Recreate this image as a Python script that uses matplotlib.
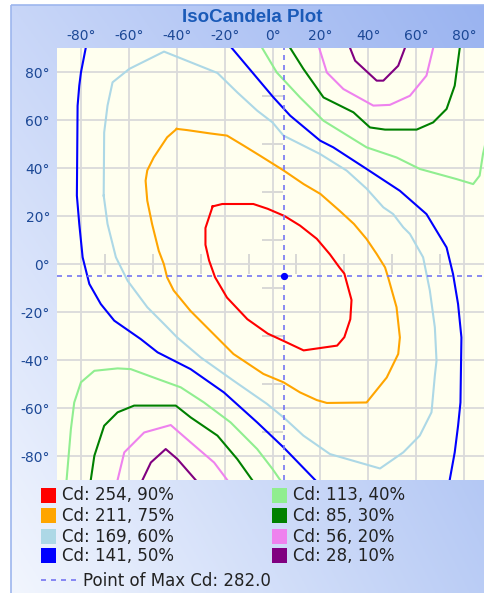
import numpy as np
import matplotlib.pyplot as plt
from matplotlib.patches import Rectangle
from matplotlib.lines import Line2D

# candela levels (value, percent of max) and their line colours
cd_values = [254, 211, 169, 141, 113, 85, 56, 28]
cd_percent = [90, 75, 60, 50, 40, 30, 20, 10]
cd_colors = ['#FF0000', '#FFA500', '#ADD8E6', '#0000FF',
             '#90EE90', '#008000', '#EE82EE', '#800080']

# point of max candela (horizontal angle, vertical angle, value)
max_h = 5
max_v = -5
max_cd = 282.0

# isocandela lines, (horizontal deg, vertical deg)
cd254 = [(-25, 24), (-21, 25), (-8, 25), (-2, 23), (5, 20), (11.5, 16), (18.5, 10.5),
         (24, 4), (28, -1.5), (30, -4), (33, -15), (32.5, -23), (30, -30.5), (27, -34),
         (20, -35), (13, -36), (4.5, -32), (-2, -29), (-10.5, -23), (-19, -14),
         (-24, -5.5), (-26.5, 1.5), (-28, 8), (-28, 15), (-25, 24)]

cd211 = [(-40, 56.3), (-35.7, 55.8), (-26, 54.4), (-19, 53.5), (-12, 49.3), (-5, 45),
         (4.6, 39), (13, 33.3), (20, 29.2), (28, 22.2), (34, 16.7), (39.3, 10.4),
         (43.5, 4.2), (47, -1.4), (48.3, -5.6), (51.8, -18), (53.2, -30.6), (52.5, -37.5),
         (47.7, -47.3), (39.3, -57.7), (22.7, -57.9), (18.5, -56.7), (11.5, -53.5),
         (4.6, -49.3), (-3.8, -45.8), (-16.3, -37.5), (-26, -27.8), (-34.3, -19.5),
         (-41.3, -11), (-44, -5.6), (-45.4, 0), (-47.5, 5.5), (-50.3, 16.7), (-52.3, 26.4),
         (-53, 34.7), (-52.3, 39), (-49.6, 44.4), (-44, 52.8), (-40, 56.3)]

cd169 = [(-70.5, 28.5), (-70.3, 54.8), (-68.9, 66), (-66.8, 75.7), (-59.8, 81.3),
         (-45.3, 88.5), (-23, 79.6), (-14.7, 71.5), (-6.4, 63.9), (0, 59), (4.6, 53.5),
         (19.9, 45.8), (31, 38.9), (39.3, 31.4), (46.3, 23.6), (50.4, 20.8), (54.6, 15.3),
         (57.4, 12.5), (62.9, 2.8), (65.7, -11), (67.8, -26.4), (68.5, -40.3),
         (67.8, -46.5), (66.4, -61.8), (61.5, -71.5), (54.6, -78.5), (44.9, -85.2),
         (24, -79.2), (12.9, -71.5), (4.6, -63.9), (-2.3, -58.3), (-16.3, -48.6),
         (-30, -38.9), (-39.8, -30.6), (-45.3, -25), (-52.3, -18), (-60.5, -7),
         (-65.4, 2.8), (-68.9, 16.7), (-70.5, 28.5)]

cd141_a = [(-17, 90), (0.4, 69.4), (7.4, 61.8), (19.9, 51.4), (25.4, 48.6), (39.3, 39.6),
           (53.2, 30.5), (64.3, 20.8), (72.7, 6.9), (75.4, -4.2), (77.5, -16.7),
           (78.9, -30.6), (78.5, -57.7), (77.5, -67.4), (76.1, -78.5), (74, -90)]
cd141_b = [(-78, 90), (-80, 79.8), (-80.7, 74.3), (-81.4, 65.9), (-81.7, 28.5),
           (-80.7, 16.7), (-79.3, 2.8), (-76.5, -8.3), (-71.7, -16.7), (-66.1, -23.6),
           (-55, -31.3), (-48, -36.8), (-34.2, -43.8), (-20.3, -53.5), (-6.4, -66),
           (4.6, -76.4), (17.8, -90)]

cd113_a = [(-4.3, 90), (1.8, 79.8), (11.5, 69.4), (21.3, 59.7), (39.3, 48.6), (51.8, 44.4),
           (61.5, 39.6), (76.8, 35.4), (83.8, 33.3), (86.5, 36.8), (87.9, 45.8), (90, 55)]
cd113_b = [(-86, -90), (-84.2, -68.8), (-82.8, -57.7), (-80, -49.3), (-74.4, -44.5),
           (-64.7, -43.5), (-59.2, -43.8), (-48, -47.9), (-38.3, -51.4), (-28.6, -57.7),
           (-17.5, -66), (-6.4, -77.1), (0, -85.4), (3.2, -90)]

cd85_a = [(7.4, 90), (12.9, 81.3), (21.3, 69.4), (33.8, 63.2), (40.7, 56.9), (47, 56),
          (60.2, 56), (67.1, 59), (72.7, 64.6), (76.1, 74.3), (78.2, 90)]
cd85_b = [(-75.9, -90), (-74.4, -79.9), (-70.3, -67.4), (-64.7, -61.8), (-57.8, -59),
          (-40.4, -59), (-34.2, -63.9), (-23, -71.5), (-14.7, -81.3), (-8.5, -90)]

cd56_a = [(19.5, 90), (22.7, 79.8), (29.6, 72.9), (42.1, 66), (49, 66.3), (57.4, 70.1),
          (64.3, 78.5), (67.1, 90)]
cd56_b = [(-64.7, -90), (-61.9, -78.5), (-53.6, -70.2), (-42.5, -67.1), (-34.2, -74.3),
          (-24.4, -82.7), (-18.9, -90)]

cd28_a = [(32.4, 90), (34.5, 84.7), (43.5, 76.4), (46.3, 76.4), (52.5, 82.6), (55.3, 90)]
cd28_b = [(-54.3, -90), (-50.8, -82.7), (-44.6, -77.1), (-39.7, -81.3), (-32.1, -90)]

cd_lines = [[cd254], [cd211], [cd169], [cd141_a, cd141_b],
            [cd113_a, cd113_b], [cd85_a, cd85_b], [cd56_a, cd56_b], [cd28_a, cd28_b]]

W, H = 484, 593
fig = plt.figure(figsize=(W / 100, H / 100), dpi=100)
fig.patch.set_facecolor('white')

# panel background: blue gradient, lighter toward the bottom left
bg = fig.add_axes([0, 0, 1, 1], zorder=-10)
tl = np.array([200, 214, 248]) / 255
tr = np.array([152, 178, 240]) / 255
bl = np.array([242, 246, 254]) / 255
br = np.array([184, 203, 245]) / 255
u = np.linspace(0, 1, 200)[None, :, None]
v = np.linspace(0, 1, 200)[:, None, None]
grad = (1 - v) * ((1 - u) * tl + u * tr) + v * ((1 - u) * bl + u * br)
px0, py0 = 11, 5
bg.imshow(grad, extent=[px0, W + 20, H, py0], aspect='auto')
bg.add_patch(Rectangle((px0, py0), W + 20, H, fill=False, ec='#9DB6EE', lw=1.2))
bg.set_xlim(0, W)
bg.set_ylim(H, 0)
bg.axis('off')

ax = fig.add_axes([57 / W, (H - 480) / H, 431 / W, 432 / H])
ax.set_facecolor('#FFFFEF')
ax.set_xlim(-90, 90)
ax.set_ylim(-90, 90)
for s in ax.spines.values():
    s.set_visible(False)

ticks = np.arange(-80, 81, 20)
ax.set_xticks(ticks)
ax.set_yticks(ticks)
ax.set_xticklabels([f'{t}°' for t in ticks])
ax.set_yticklabels([f'{t}°' for t in ticks])
ax.xaxis.tick_top()
ax.tick_params(axis='x', length=0, pad=3.5, labelsize=10, labelcolor='#1C4896')
ax.tick_params(axis='y', length=0, pad=5, labelsize=10, labelcolor='#1C4896')
ax.grid(True, color='#DADADA', lw=1.3, zorder=0)

# small cross ticks along the zero lines
minor = np.arange(-70, 71, 20)
ax.hlines(minor, -4.4, 4.4, color='#D2D2D2', lw=1.2, zorder=1)
ax.vlines(minor, -4.2, 4.2, color='#D2D2D2', lw=1.2, zorder=1)

for segs, c in zip(cd_lines, cd_colors):
    for seg in segs:
        xy = np.array(seg)
        ax.plot(xy[:, 0], xy[:, 1], color=c, lw=1.5, zorder=3, clip_on=True)

ax.axvline(max_h, color='#7575F2', lw=1.2, dashes=(3, 3), zorder=4)
ax.axhline(max_v, color='#7575F2', lw=1.2, dashes=(3, 3), zorder=4)
ax.plot(max_h, max_v, 'o', color='#0000FF', ms=4.2, zorder=5)

fig.text(252 / W, 1 - 18 / H, 'IsoCandela Plot', ha='center', va='center',
         fontsize=13.5, fontweight='bold', color='#1A5AB8', family='Liberation Sans')

# legend drawn in pixel coordinates on the background axes
row_y = [495, 515.3, 536, 555.7]
col_x = [41, 272]
for i, (val, pct, c) in enumerate(zip(cd_values, cd_percent, cd_colors)):
    cx = col_x[i // 4]
    ry = row_y[i % 4]
    bg.add_patch(Rectangle((cx, ry - 7.5), 15, 15, fc=c, ec='none'))
    bg.text(cx + 21, ry + 0.5, f'Cd: {val}, {pct}%', ha='left', va='center',
            fontsize=12, color='#222222')

bg.add_line(Line2D([41, 77], [580, 580], color='#7575F2', lw=1.2, dashes=(3, 3)))
bg.text(83, 580.5, f'Point of Max Cd: {max_cd:.1f}', ha='left', va='center',
        fontsize=12, color='#222222')

fig.savefig('out.png', dpi=100)
